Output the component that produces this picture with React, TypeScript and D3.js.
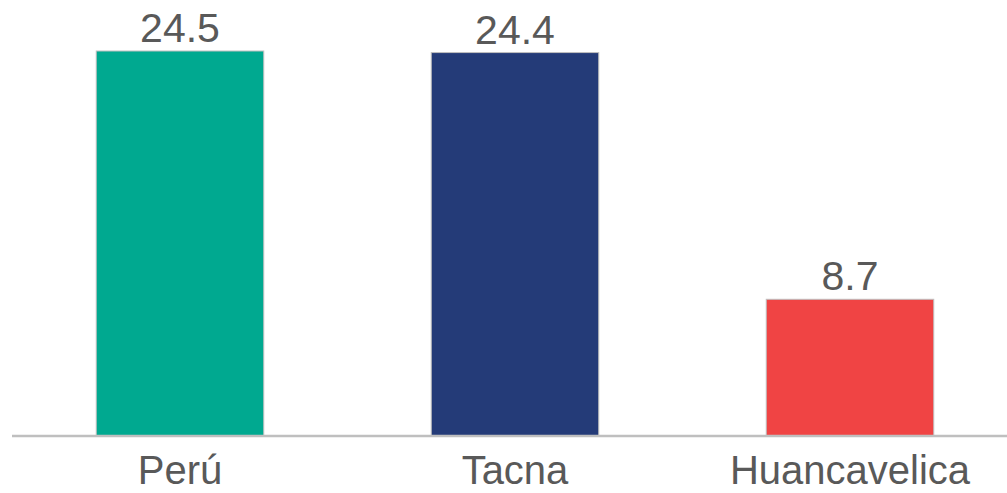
import React from "react";
import * as d3 from "d3";

const categories = ["Perú", "Tacna", "Huancavelica"];
const values = [24.5, 24.4, 8.7];
const colors = ["#00A990", "#243B78", "#F04444"];

const W = 1007;
const H = 493;
const baseY = 436;

export default function App() {
  const x = d3
    .scaleBand<string>()
    .domain(categories)
    .range([12.5, 1017.5])
    .paddingInner(0.5)
    .paddingOuter(0.25);
  const y = d3.scaleLinear().domain([0, 24.5]).range([baseY, 51]);

  return (
    <svg
      width={W}
      height={H}
      style={{ position: "fixed", top: 0, left: 0, background: "#fff" }}
      fontFamily="Liberation Sans, Arial, sans-serif"
    >
      {categories.map((c, i) => (
        <g key={c}>
          <rect
            x={x(c)!}
            y={y(values[i])}
            width={x.bandwidth()}
            height={baseY - y(values[i])}
            fill={colors[i]}
            stroke="#BFBFBF"
            strokeWidth={1}
          />
          <text
            x={x(c)! + x.bandwidth() / 2}
            y={y(values[i]) - 9}
            textAnchor="middle"
            fontSize={41}
            fill="#595959"
          >
            {values[i].toFixed(1)}
          </text>
          <text
            x={x(c)! + x.bandwidth() / 2}
            y={484}
            textAnchor="middle"
            fontSize={40}
            fill="#595959"
          >
            {c}
          </text>
        </g>
      ))}
      <line x1={12} x2={1007} y1={baseY} y2={baseY} stroke="#BFBFBF" strokeWidth={2.5} />
    </svg>
  );
}
